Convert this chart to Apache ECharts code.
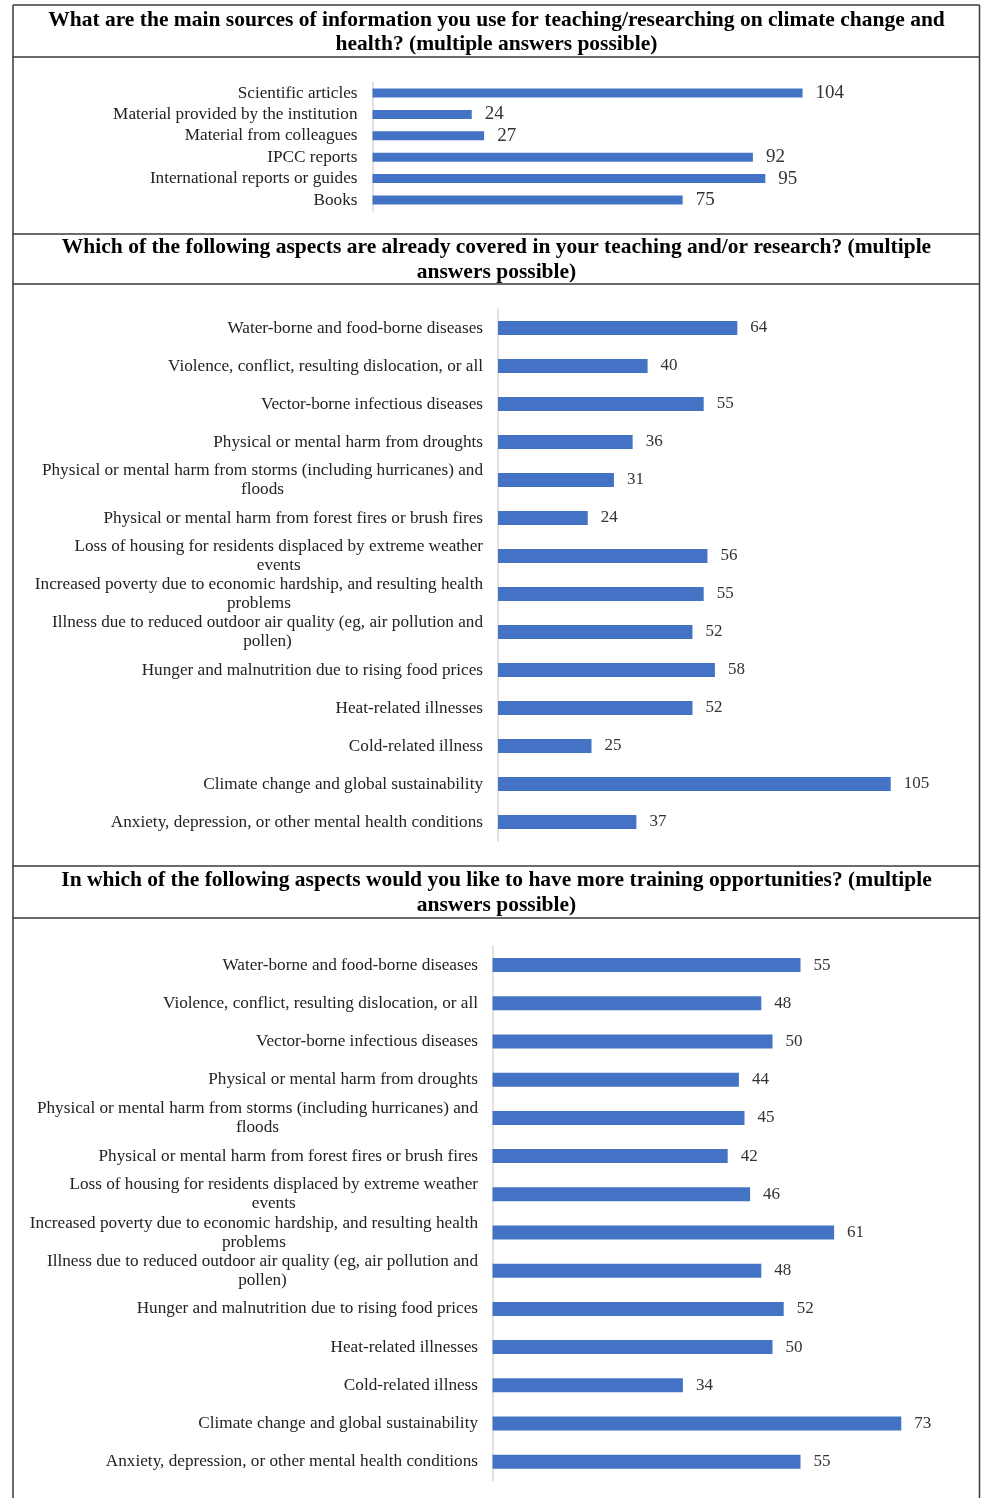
<!DOCTYPE html>
<html>
<head>
<meta charset="utf-8">
<script src="https://cdn.jsdelivr.net/npm/echarts@6/dist/echarts.min.js"></script>
<style>
  html, body { margin: 0; padding: 0; background: #fff; }
  #chart { width: 981px; height: 1498px; }
</style>
</head>
<body>
<div id="chart"></div>
<script>
// Survey responses: information sources, covered aspects, wanted training
const sourceCategories = [
  'Scientific articles',
  'Material provided by the institution',
  'Material from colleagues',
  'IPCC reports',
  'International reports or guides',
  'Books'
];
const sourceValues = [104, 24, 27, 92, 95, 75];

const aspectCategories = [
  'Water-borne and food-borne diseases',
  'Violence, conflict, resulting dislocation, or all',
  'Vector-borne infectious diseases',
  'Physical or mental harm from droughts',
  'Physical or mental harm from storms (including hurricanes) and\nfloods',
  'Physical or mental harm from forest fires or brush fires',
  'Loss of housing for residents displaced by extreme weather\nevents',
  'Increased poverty due to economic hardship, and resulting health\nproblems',
  'Illness due to reduced outdoor air quality (eg, air pollution and\npollen)',
  'Hunger and malnutrition due to rising food prices',
  'Heat-related illnesses',
  'Cold-related illness',
  'Climate change and global sustainability',
  'Anxiety, depression, or other mental health conditions'
];
const coveredValues = [64, 40, 55, 36, 31, 24, 56, 55, 52, 58, 52, 25, 105, 37];
const trainingValues = [55, 48, 50, 44, 45, 42, 46, 61, 48, 52, 50, 34, 73, 55];

const panelTitles = [
  ['What are the main sources of information you use for teaching/researching on climate change and',
   'health? (multiple answers possible)'],
  ['Which of the following aspects are already covered in your teaching and/or research? (multiple',
   'answers possible)'],
  ['In which of the following aspects would you like to have more training opportunities? (multiple',
   'answers possible)']
];

const SERIF = '"Liberation Serif", "Times New Roman", serif';
const BAR = '#4472C4';
const INK = '#222222';
const FRAME = '#3a3a3a';

// grid geometry for each panel: left edge of bars, px per unit, top, band height
const panels = [
  { left: 372.5, scale: 4.135, max: 104, top: 82.3, band: 21.4, barW: 9,  catSize: 17.2, valSize: 19, margin: 15, cats: sourceCategories, vals: sourceValues },
  { left: 498,   scale: 3.74,  max: 105, top: 309,  band: 38,   barW: 14, catSize: 17.2, valSize: 17, margin: 15, cats: aspectCategories, vals: coveredValues },
  { left: 492.5, scale: 5.60,  max: 73,  top: 946,  band: 38.2, barW: 14, catSize: 17.2, valSize: 17, margin: 14.5, cats: aspectCategories, vals: trainingValues }
];

const grids = [], xAxes = [], yAxes = [], series = [];
panels.forEach((p, i) => {
  grids.push({
    left: p.left, top: p.top,
    width: p.scale * p.max,
    height: p.band * p.cats.length,
    containLabel: false
  });
  xAxes.push({ gridIndex: i, type: 'value', min: 0, max: p.max, show: false });
  yAxes.push({
    gridIndex: i, type: 'category', inverse: true, data: p.cats,
    axisLine: { show: true, lineStyle: { color: '#d9d9d9', width: 1.5 } },
    axisTick: { show: false },
    splitLine: { show: false },
    axisLabel: {
      margin: p.margin,
      formatter: v => v.split('\n').map(s => '{c|' + s + '}').join('\n'),
      rich: { c: { align: 'center', fontSize: p.catSize, fontFamily: SERIF, color: INK, lineHeight: 19 } }
    }
  });
  series.push({
    type: 'bar', xAxisIndex: i, yAxisIndex: i, data: p.vals,
    barWidth: p.barW,
    itemStyle: { color: BAR },
    label: {
      show: true, position: 'right', distance: 13,
      fontSize: p.valSize, fontFamily: SERIF, color: '#333333'
    },
    animation: false
  });
});

// frames and title boxes
const X0 = 13, X1 = 979.5;
const hLines = [5, 57, 234, 284, 866, 918];
const graphics = [];
hLines.forEach(y => graphics.push({
  type: 'line', shape: { x1: X0, y1: y, x2: X1, y2: y },
  style: { stroke: FRAME, lineWidth: 1.5 }
}));
[X0, X1].forEach(x => graphics.push({
  type: 'line', shape: { x1: x, y1: 5, x2: x, y2: 1500 },
  style: { stroke: FRAME, lineWidth: 1.5 }
}));

const titleRows = [[20, 44], [247, 272], [880, 905]];
panelTitles.forEach((lines, i) => {
  lines.forEach((t, j) => graphics.push({
    type: 'text', x: 496.5, y: titleRows[i][j],
    style: {
      text: t, align: 'center', verticalAlign: 'middle',
      fontSize: 21.5, fontWeight: 'bold', fontFamily: SERIF, fill: '#000'
    }
  }));
});

const chart = echarts.init(document.getElementById('chart'), null, { renderer: 'canvas' });
chart.setOption({
  animation: false,
  backgroundColor: '#ffffff',
  grid: grids,
  xAxis: xAxes,
  yAxis: yAxes,
  series: series,
  graphic: graphics
});
</script>
</body>
</html>
